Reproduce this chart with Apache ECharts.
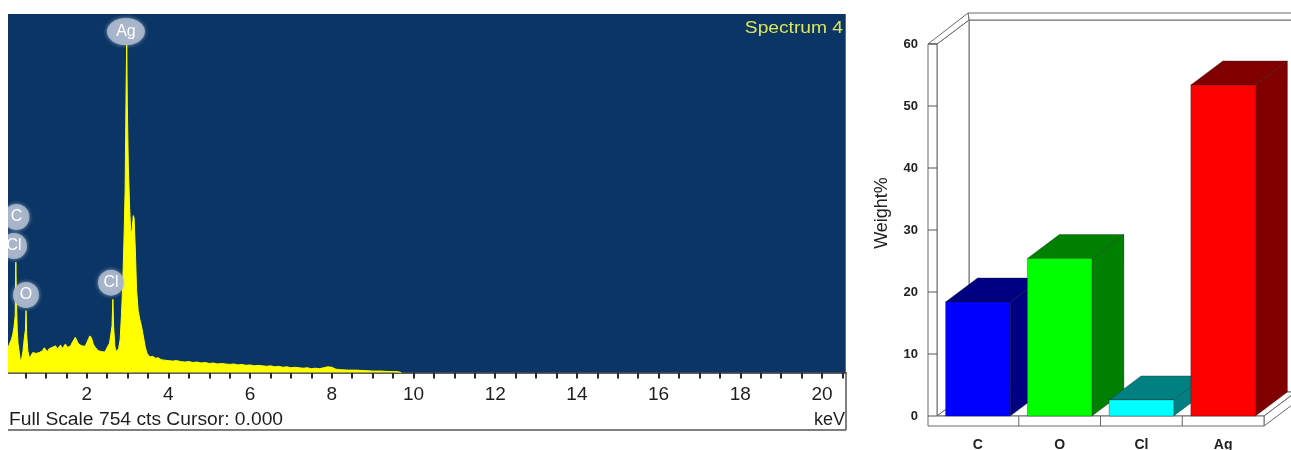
<!DOCTYPE html>
<html>
<head>
<meta charset="utf-8">
<script src="https://cdn.jsdelivr.net/npm/echarts@6/dist/echarts.min.js"></script>
<style>
html,body{margin:0;padding:0;background:#fff;}
#c{width:1291px;height:450px;}
</style>
</head>
<body>
<div id="c"></div>
<script>
// ---- EDS spectrum (keV, counts) ----
const specEnergy = [0.07,0.10,0.13,0.16,0.19,0.22,0.25,0.265,0.28,0.30,0.32,0.35,0.38,0.41,0.44,0.47,0.50,0.515,0.53,0.56,0.60,
0.64,0.68,0.72,0.76,0.80,0.84,0.88,0.92,0.96,1.00,1.04,1.08,1.12,1.16,1.20,1.24,1.28,1.32,1.36,1.40,1.44,1.48,1.52,1.56,1.60,
1.64,1.68,1.72,1.76,1.80,1.84,1.88,1.92,1.96,2.00,2.04,2.08,2.12,2.16,2.20,2.24,2.28,2.32,2.36,2.40,2.44,2.48,2.52,2.56,2.59,
2.62,2.64,2.66,2.69,2.72,2.75,2.78,2.82,2.85,2.88,2.91,2.94,2.965,2.98,2.995,3.02,3.05,3.08,3.11,3.14,3.16,3.19,3.22,3.26,3.30,
3.34,3.37,3.40,3.43,3.47,3.51,3.56,3.62,3.68,3.75,3.82,3.90,4.00,4.10,4.20,4.30,4.40,4.50,4.60,4.70,4.80,4.90,5.00,5.10,5.20,
5.30,5.40,5.50,5.60,5.70,5.80,5.90,6.00,6.10,6.20,6.30,6.40,6.50,6.60,6.70,6.80,6.90,7.00,7.10,7.20,7.30,7.40,7.50,7.60,7.70,
7.80,7.90,8.00,8.10,8.20,8.40,8.60,8.80,9.00,9.20,9.40,9.60,9.70];
const specCounts = [50,58,62,70,80,95,120,232,150,90,60,42,22,30,45,70,90,130,80,45,30,
36,42,38,40,36,42,38,46,52,48,44,50,47,53,50,56,49,52,58,50,55,60,53,57,55,
62,68,74,70,60,63,56,52,55,62,70,77,72,60,54,50,46,48,44,46,43,49,52,62,80,
98,154,95,55,44,40,50,70,120,180,270,380,600,692,560,430,350,292,300,330,325,260,175,130,112,
98,102,70,55,42,36,33,34,30,31,27,26,25,24,25,23,22,23,21,22,20,21,19,20,18,
19,18,17,18,16,17,15,16,14,15,14,13,14,12,13,11,12,10,11,10,9,10,8,9,8,
10,12,11,7,6,5,5,4,3,3,2,2,0];

// ---- peak identification bubbles ----
const peakNames  = ['Cl','C','O','Cl','Ag'];
const peakEnergy = [0.22,0.28,0.514,2.595,2.96];
const peakCount  = [266,327,163,189,717];

// ---- x-axis tick labels (keV) ----
const keVLabels = [2,4,6,8,10,12,14,16,18,20];

// ---- Weight% bar chart ----
const barCats   = ['C','O','Cl','Ag'];
const barValues = [18.4, 25.4, 2.6, 53.4];
const barFront  = ['#0000ff','#00ff00','#00ffff','#ff0000'];
const barDark   = ['#000080','#008000','#008080','#800000'];
const weightTicks = [0,10,20,30,40,50,60];

const FONT = 'Liberation Sans, Arial, Helvetica, sans-serif';
const chart = echarts.init(document.getElementById('c'), null, {renderer:'canvas'});

const spec = specEnergy.map((e,i)=>[e, specCounts[i]]);
const peaks = peakNames.map((n,i)=>({name:n, value:[peakEnergy[i], peakCount[i]]}));

const DX = 32, DY = -24;

function renderBar(params, api){
  const idx = api.value(0), val = api.value(1);
  const bw = api.size([1,0])[0];
  const bwid = bw*0.79;
  const p = api.coord([idx, val]);
  const p0 = api.coord([idx, 0]);
  const xl = p[0]-bwid/2, xr = xl+bwid, yt = p[1], yb = p0[1];
  const dark = barDark[idx], front = barFront[idx];
  const edge = 'rgba(0,0,0,0.45)';
  return {type:'group', children:[
    {type:'polygon', shape:{points:[[xr,yt],[xr+DX,yt+DY],[xr+DX,yb+DY],[xr,yb]]}, style:{fill:dark, stroke:edge, lineWidth:0.6}},
    {type:'polygon', shape:{points:[[xl,yt],[xr,yt],[xr+DX,yt+DY],[xl+DX,yt+DY]]}, style:{fill:dark, stroke:edge, lineWidth:0.6}},
    {type:'rect', shape:{x:xl, y:yt, width:bwid, height:yb-yt}, style:{fill:front, stroke:edge, lineWidth:0.6}}
  ]};
}

function renderFrame(params, api){
  const bw = api.size([1,0])[0];
  const c0 = api.coord([0,0]);
  const c3 = api.coord([barCats.length-1,0]);
  const top = api.coord([0, 60])[1];
  const xL = c0[0]-bw/2, xR = c3[0]+bw/2, y0 = c0[1];
  const tw = 9, th = 10, ox = 40, oy = -31;
  const st = {fill:'#fff', stroke:'#6a6a6a', lineWidth:1};
  const ch = [];
  ch.push({type:'polygon', shape:{points:[[xL+DX,top+DY],[xR+DX+40,top+DY],[xR+DX+40,y0+DY],[xL+DX,y0+DY]]}, style:st});
  ch.push({type:'polygon', shape:{points:[[xL-tw+ox,top+oy],[xR+ox+40,top+oy],[xR+DX+40,top+DY],[xL+DX,top+DY]]}, style:st});
  ch.push({type:'polygon', shape:{points:[[xL,top],[xL+DX,top+DY],[xL+DX,y0+DY],[xL,y0]]}, style:st});
  ch.push({type:'polygon', shape:{points:[[xL-tw,top],[xL-tw+ox,top+oy],[xL+DX,top+DY],[xL,top]]}, style:st});
  ch.push({type:'polygon', shape:{points:[[xL,y0],[xR,y0],[xR+DX,y0+DY],[xL+DX,y0+DY]]}, style:st});
  ch.push({type:'polygon', shape:{points:[[xR,y0],[xR+DX,y0+DY],[xR+DX,y0+DY+th],[xR,y0+th]]}, style:st});
  ch.push({type:'polygon', shape:{points:[[xL-tw,top],[xL,top],[xL,y0],[xR,y0],[xR,y0+th],[xL-tw,y0+th]]}, style:st});
  weightTicks.forEach(v=>{
    const y = api.coord([0,v])[1];
    ch.push({type:'line', shape:{x1:xL-tw, y1:y, x2:xL, y2:y}, style:{stroke:'#555', lineWidth:1}});
  });
  for(let i=1;i<barCats.length;i++){
    const x = api.coord([i,0])[0]-bw/2;
    ch.push({type:'line', shape:{x1:x, y1:y0, x2:x, y2:y0+th}, style:{stroke:'#666', lineWidth:1}});
  }
  return {type:'group', children:ch};
}

chart.setOption({
  animation:false,
  backgroundColor:'#ffffff',
  grid:[
    {left:5, right:445.3, top:14, bottom:77.5, show:true, backgroundColor:'#0a3564', borderWidth:0, outerBoundsMode:'none', containLabel:false},
    {left:937, right:27, top:44, bottom:34, outerBoundsMode:'none', containLabel:false}
  ],
  xAxis:[
    {gridIndex:0, type:'value', min:0, max:20.58, interval:0.5,
     axisLine:{show:true, lineStyle:{color:'#2a2a2a', width:1.5}},
     axisTick:{show:true, length:6, lineStyle:{color:'#2a2a2a', width:2}},
     splitLine:{show:false},
     axisLabel:{show:true, margin:13, fontSize:19, fontFamily:FONT, color:'#1e1e1e', showMinLabel:true, showMaxLabel:false, hideOverlap:false,
       formatter:function(v){ return keVLabels.indexOf(Math.round(v*100)/100)>=0 ? String(v) : ''; }}
    },
    {gridIndex:1, type:'category', data:barCats, boundaryGap:true,
     axisLine:{show:false}, axisTick:{show:false},
     axisLabel:{margin:22, fontSize:14, fontWeight:'bold', fontFamily:FONT, color:'#222'}}
  ],
  yAxis:[
    {gridIndex:0, type:'value', min:0, max:754, show:false, splitLine:{show:false}},
    {gridIndex:1, type:'value', min:0, max:60, interval:10,
     axisLine:{show:false}, axisTick:{show:false}, splitLine:{show:false},
     axisLabel:{margin:19, fontSize:13, fontWeight:'bold', fontFamily:FONT, color:'#222'}}
  ],
  series:[
    {type:'line', xAxisIndex:0, yAxisIndex:0, data:spec, showSymbol:false, symbol:'none', smooth:false,
     lineStyle:{color:'#ffff00', width:1}, areaStyle:{color:'#ffff00', opacity:1}, z:2},
    {type:'scatter', xAxisIndex:0, yAxisIndex:0, data:peaks, z:3,
     symbol:'circle',
     symbolSize:function(val, p){ return p.name==='Ag' ? [38,27] : 26; },
     itemStyle:{color:'rgba(172,184,204,0.9)', shadowColor:'rgba(200,210,228,0.7)', shadowBlur:4, opacity:1},
     label:{show:true, position:'inside', formatter:'{b}', color:'#ffffff', fontSize:16, fontFamily:FONT}},
    {type:'custom', xAxisIndex:1, yAxisIndex:1, data:[[0,0]], renderItem:renderFrame, z:1, silent:true, clip:false},
    {type:'custom', xAxisIndex:1, yAxisIndex:1, data:barValues.map((v,i)=>[i,v]), renderItem:renderBar, z:2, clip:false}
  ],
  graphic:[
    {type:'rect', shape:{x:0, y:0, width:8, height:386}, style:{fill:'#ffffff'}, z:100},
    {type:'text', x:843, y:29, z:101, scaleX:1.2,
     style:{text:'Spectrum 4', fontSize:16, fontFamily:FONT, fill:'#dde55a', align:'right', verticalAlign:'middle'}},
    {type:'text', x:9, y:420, z:101, scaleX:1.07,
     style:{text:'Full Scale 754 cts Cursor: 0.000', fontSize:18, fontFamily:FONT, fill:'#1e1e1e', align:'left', verticalAlign:'middle'}},
    {type:'text', x:845, y:420, z:101,
     style:{text:'keV', fontSize:18, fontFamily:FONT, fill:'#1e1e1e', align:'right', verticalAlign:'middle'}},
    {type:'line', shape:{x1:8, y1:430, x2:846, y2:430}, style:{stroke:'#555', lineWidth:1.5}, z:101},
    {type:'line', shape:{x1:846, y1:372, x2:846, y2:430}, style:{stroke:'#555', lineWidth:1.5}, z:101},
    {type:'text', x:882, y:213, rotation:Math.PI/2, z:101,
     style:{text:'Weight%', fontSize:18, fontFamily:FONT, fill:'#222', align:'center', verticalAlign:'middle'}}
  ]
});
</script>
</body>
</html>
